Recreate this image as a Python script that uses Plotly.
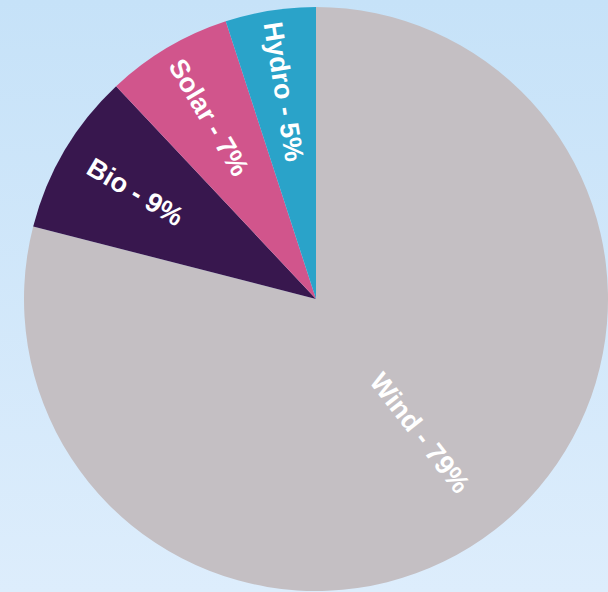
import plotly.graph_objects as go
import numpy as np
import base64

labels = ["Wind", "Bio", "Solar", "Hydro"]
values = [79, 9, 7, 5]
colors = ["#c4bfc3", "#38174e", "#d1558c", "#2aa3c9"]

W, H = 608, 592
cx_px, cy_px, R_px = 316, 299, 292
dom_x = [(cx_px - R_px) / W, min((cx_px + R_px) / W, 1.0)]
dom_y = [(H - cy_px - R_px) / H, (H - cy_px + R_px) / H]

svg = """<svg xmlns='http://www.w3.org/2000/svg' width='608' height='592'>
<defs><linearGradient id='g' x1='0' y1='0' x2='0' y2='1'>
<stop offset='0' stop-color='#c6e2f8'/><stop offset='1' stop-color='#ddedfc'/>
</linearGradient></defs><rect width='608' height='592' fill='url(#g)'/></svg>"""
bg_uri = "data:image/svg+xml;base64," + base64.b64encode(svg.encode()).decode()

fig = go.Figure(go.Pie(
    labels=labels,
    values=values,
    sort=False,
    direction="clockwise",
    rotation=0,
    marker=dict(colors=colors, line=dict(width=0)),
    textinfo="none",
    hoverinfo="label+percent",
    showlegend=False,
    domain=dict(x=dom_x, y=dom_y),
))

# radial labels at each slice's mid-angle
vals = np.array(values, dtype=float)
share = vals / vals.sum()
cum = np.cumsum(share) - share / 2
annotations = []
for lab, v, s, m in zip(labels, values, share, cum):
    theta = 360.0 * m  # clockwise from 12 o'clock
    frac = 0.58 if s > 0.5 else 0.72
    rad = np.radians(theta)
    px = cx_px + frac * R_px * np.sin(rad)
    py = cy_px - frac * R_px * np.cos(rad)
    angle = theta - 90 if theta < 180 else theta - 270
    annotations.append(dict(
        x=px / W, y=1 - py / H, xref="paper", yref="paper",
        text=f"{lab} - {v}%", showarrow=False, textangle=angle,
        xanchor="center", yanchor="middle",
        font=dict(family="Liberation Sans, Arial, sans-serif", size=27, color="white", weight="bold"),
    ))

fig.update_layout(
    width=W, height=H,
    margin=dict(l=0, r=0, t=0, b=0),
    paper_bgcolor="#d2e8f9",
    plot_bgcolor="rgba(0,0,0,0)",
    images=[dict(source=bg_uri, xref="paper", yref="paper", x=0, y=1,
                 sizex=1, sizey=1, sizing="stretch", layer="below",
                 xanchor="left", yanchor="top")],
    annotations=annotations,
    showlegend=False,
)

fig.write_html("out.html")
